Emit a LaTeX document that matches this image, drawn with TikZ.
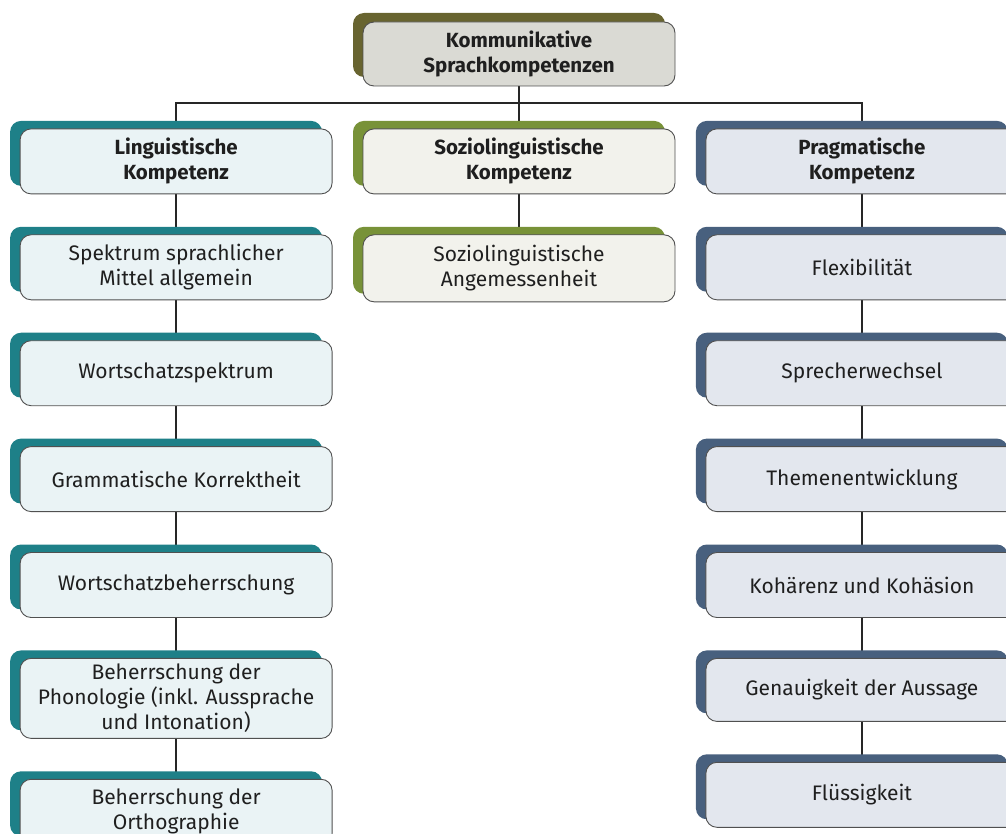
\documentclass[tikz,border=0pt]{standalone}
\usepackage{fontspec}
\setmainfont{Fira Sans}
\usepackage{tikz}
\usetikzlibrary{positioning, shadows, backgrounds}

\definecolor{olivedark}{RGB}{104,100,48}
\definecolor{tealdark}{RGB}{30,128,136}
\definecolor{greendark}{RGB}{120,146,56}
\definecolor{slatedark}{RGB}{72,96,126}
\definecolor{topfill}{RGB}{218,218,212}
\definecolor{lingfill}{RGB}{234,243,245}
\definecolor{soziofill}{RGB}{242,242,236}
\definecolor{pragfill}{RGB}{227,231,238}
\definecolor{edge}{RGB}{80,80,80}

\begin{document}
\begin{tikzpicture}[
  x=1pt, y=-1pt,
  node distance=40pt and 30pt,
  every node/.style={font=\fontsize{21}{25}\selectfont, text=black!88},
  card/.style={rectangle, rounded corners=11pt, draw=edge, line width=0.9pt, fill=#1,
    minimum width=312pt, minimum height=65pt, align=center, inner sep=4pt},
  head/.style={font=\fontsize{20.5}{25}\selectfont\bfseries},
  ling/.style={card=lingfill, copy shadow={shadow xshift=-10pt, shadow yshift=8pt, fill=tealdark, draw=none}},
  sozio/.style={card=soziofill, copy shadow={shadow xshift=-10pt, shadow yshift=8pt, fill=greendark, draw=none}},
  prag/.style={card=pragfill, copy shadow={shadow xshift=-10pt, shadow yshift=8pt, fill=slatedark, draw=none}},
  conn/.style={line width=2.2pt, black!85}
]
\useasboundingbox (0,0) rectangle (1006,834);

% ---- TOP ----
\node[card=topfill, head, minimum height=64pt,
  copy shadow={shadow xshift=-10pt, shadow yshift=9pt, fill=olivedark, draw=none}]
  (kom) at (519,54) {Kommunikative\\Sprachkompetenzen};

% ---- LEVEL 1 ----
\node[sozio, head, below=42pt of kom] (soz) {Soziolinguistische\\Kompetenz};
\node[ling, head, left=of soz] (lin) {Linguistische\\Kompetenz};
\node[prag, head, right=of soz] (pra) {Pragmatische\\Kompetenz};

% ---- LINGUISTISCH ----
\node[ling, below=of lin] (spek) {Spektrum sprachlicher\\Mittel allgemein};
\node[ling, below=of spek] (wsp) {Wortschatzspektrum};
\node[ling, below=of wsp] (gram) {Grammatische Korrektheit};
\node[ling, below=of gram] (wbh) {Wortschatzbeherrschung};
\node[ling, below=of wbh, minimum height=80pt] (phon) {Beherrschung der\\Phonologie (inkl. Aussprache\\und Intonation)};
\node[ling, below=of phon] (orth) {Beherrschung der\\Orthographie};

% ---- SOZIOLINGUISTISCH ----
\node[sozio, below=of soz, minimum height=67pt] (ang) {Soziolinguistische\\Angemessenheit};

% ---- PRAGMATISCH ----
\node[prag, below=of pra] (flex) {Flexibilität};
\node[prag, below=of flex] (spr) {Sprecherwechsel};
\node[prag, below=of spr] (them) {Themenentwicklung};
\node[prag, below=of them] (koh) {Kohärenz und Kohäsion};
\node[prag, below=of koh, minimum height=63pt] (gen) {Genauigkeit der Aussage};
\node[prag, below=of gen] (flu) {Flüssigkeit};

% ---- CONNECTORS ----
\begin{scope}[on background layer]
  \coordinate (bus) at (519,103);
  \draw[conn] (kom) -- (soz);
  \draw[conn] (lin.north) |- (bus) -| (pra.north);
  \draw[conn] (lin) -- (spek);
  \draw[conn] (spek) -- (wsp);
  \draw[conn] (wsp) -- (gram);
  \draw[conn] (gram) -- (wbh);
  \draw[conn] (wbh) -- (phon);
  \draw[conn] (phon) -- (orth);
  \draw[conn] (soz) -- (ang);
  \draw[conn] (pra) -- (flex);
  \draw[conn] (flex) -- (spr);
  \draw[conn] (spr) -- (them);
  \draw[conn] (them) -- (koh);
  \draw[conn] (koh) -- (gen);
  \draw[conn] (gen) -- (flu);
\end{scope}
\end{tikzpicture}
\end{document}
